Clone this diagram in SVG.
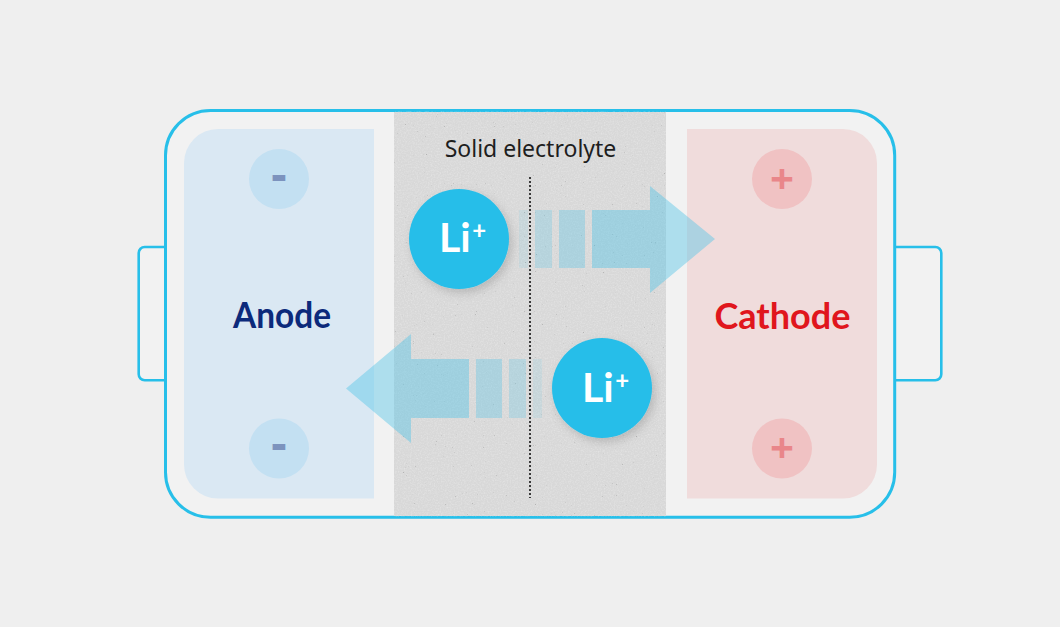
<svg xmlns="http://www.w3.org/2000/svg" width="1060" height="627" viewBox="0 0 1060 627">
  <defs>
    <style>
      .frame { fill: #f2f2f2; stroke: #27bfe9; }
      .label { font-family: "Noto Sans", "Liberation Sans", sans-serif; font-weight: 700; text-anchor: middle; }
      .big { font-family: Lato, "Noto Sans", "Liberation Sans", sans-serif; font-weight: 700; font-size: 36px; }
      .minusc { fill: #c3e0f2; }
      .plusc { fill: #f0c2c3; }
      .minus { fill: #7c93be; font-size: 48px; }
      .plus { fill: #e9868a; font-size: 42px; }
      .li { fill: #27bee9; filter: url(#shadow); }
      .litxt { font-family: Lato, "Noto Sans", "Liberation Sans", sans-serif; font-weight: 700; fill: #ffffff; font-size: 41px; }
      .arrow { fill: #4fc3e8; }
    </style>
    <filter id="shadow" x="-30%" y="-30%" width="160%" height="160%">
      <feDropShadow dx="3" dy="4" stdDeviation="5" flood-color="#000" flood-opacity="0.16"/>
    </filter>
    <filter id="grain" x="394" y="111" width="272" height="406" filterUnits="userSpaceOnUse">
      <feTurbulence type="fractalNoise" baseFrequency="1.1" numOctaves="2" seed="7" result="n"/>
      <feColorMatrix in="n" type="matrix" values="0 0 0 0 0.45  0 0 0 0 0.45  0 0 0 0 0.45  9 0 0 0 -6.9"/>
    </filter>
    <filter id="grain2" x="394" y="111" width="272" height="406" filterUnits="userSpaceOnUse">
      <feTurbulence type="fractalNoise" baseFrequency="0.7" numOctaves="2" seed="21" result="n"/>
      <feColorMatrix in="n" type="matrix" values="0 0 0 0 1  0 0 0 0 1  0 0 0 0 1  0 0.6 0 0 -0.25"/>
    </filter>
  </defs>

  <rect width="1060" height="627" fill="#efefef"/>

  <g id="battery">
    <rect class="frame" x="138.7" y="247" width="40" height="133.3" rx="6" stroke-width="2.6"/>
    <rect class="frame" x="880" y="247" width="61.3" height="133.3" rx="6" stroke-width="2.6"/>
    <rect class="frame" x="165.5" y="110.5" width="729.2" height="406.8" rx="45" stroke-width="3"/>
  </g>

  <g id="electrolyte">
    <rect x="394" y="112" width="272" height="404" fill="#d8d8d8"/>
    <rect x="394" y="112" width="272" height="404" filter="url(#grain2)"/>
    <rect x="394" y="112" width="272" height="404" filter="url(#grain)"/>
    <text class="label" x="530.5" y="156.7" font-size="23" fill="#1e1e1e" style="font-weight:400">Solid electrolyte</text>
    <line x1="530" y1="177" x2="530" y2="498" stroke="#3a3a3a" stroke-width="2" stroke-dasharray="2 2"/>
  </g>

  <g id="anode">
    <path d="M218 129 H374 V498.5 H218 A34 34 0 0 1 184 464.5 V163 A34 34 0 0 1 218 129 Z" fill="#dae8f3"/>
    <circle class="minusc" cx="279" cy="179" r="30"/>
    <text class="label minus" x="279" y="190.5">-</text>
    <circle class="minusc" cx="279" cy="448.5" r="30"/>
    <text class="label minus" x="279" y="460">-</text>
    <text class="label big" x="282" y="328.3" fill="#0c2a7b" textLength="98" lengthAdjust="spacingAndGlyphs">Anode</text>
  </g>

  <g id="cathode">
    <path d="M687 129 H843 A34 34 0 0 1 877 163 V464.5 A34 34 0 0 1 843 498.5 H687 Z" fill="#f0dcdc"/>
    <circle class="plusc" cx="782" cy="179" r="30"/>
    <text class="label plus" x="782" y="193.5">+</text>
    <circle class="plusc" cx="782" cy="448.5" r="30"/>
    <text class="label plus" x="782" y="463">+</text>
    <text class="label big" x="782.5" y="329.3" fill="#e0161d" textLength="136" lengthAdjust="spacingAndGlyphs">Cathode</text>
  </g>

  <g id="connectors">
    <g id="arrow-right">
      <rect class="arrow" x="519" y="210" width="9" height="58" opacity="0.12"/>
      <rect class="arrow" x="535" y="210" width="17" height="58" opacity="0.25"/>
      <rect class="arrow" x="559" y="210" width="26" height="58" opacity="0.33"/>
      <path class="arrow" d="M592 210 H650 V186 L715 239 L650 293 V268 H592 Z" opacity="0.42"/>
    </g>
    <g id="arrow-left">
      <rect class="arrow" x="533" y="359" width="9" height="59" opacity="0.12"/>
      <rect class="arrow" x="509" y="359" width="17" height="59" opacity="0.25"/>
      <rect class="arrow" x="476" y="359" width="26" height="59" opacity="0.33"/>
      <path class="arrow" d="M469 359 H411 V334 L346 388.5 L411 443 V418 H469 Z" opacity="0.42"/>
    </g>
  </g>

  <g id="li-top">
    <circle class="li" cx="459" cy="239" r="50"/>
    <text class="litxt" x="439" y="252">Li<tspan dx="1.5" dy="-13" font-size="24">+</tspan></text>
  </g>
  <g id="li-bottom">
    <circle class="li" cx="602" cy="388" r="50"/>
    <text class="litxt" x="582" y="402.3">Li<tspan dx="1.5" dy="-13" font-size="24">+</tspan></text>
  </g>
</svg>
